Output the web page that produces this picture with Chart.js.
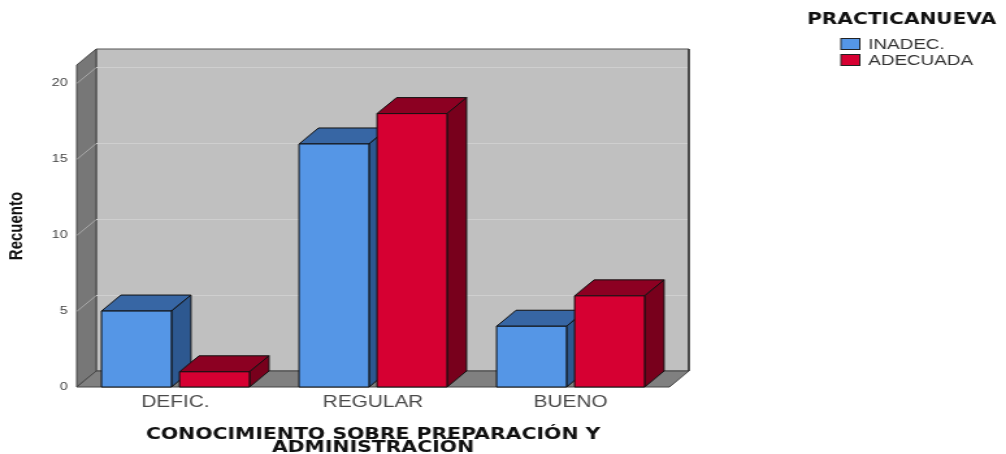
<!DOCTYPE html>
<html>
<head>
<meta charset="utf-8">
<script src="https://cdn.jsdelivr.net/npm/chart.js@4.4.1/dist/chart.umd.min.js"></script>
<style>
  html, body { margin: 0; padding: 0; background: #fff; }
  canvas { display: block; }
</style>
</head>
<body>
<canvas id="recuentoChart"></canvas>
<script>
// datos
const categories = ['DEFIC.', 'REGULAR', 'BUENO'];
const inadec = [5, 16, 4];
const adecuada = [1, 18, 6];
const seriesNames = ['INADEC.', 'ADECUADA'];
const legendTitle = 'PRACTICANUEVA';
const yTitle = 'Recuento';
const xTitle = ['CONOCIMIENTO SOBRE PREPARACIÓN Y', 'ADMINISTRACIÓN'];
const yTickValues = [0, 5, 10, 15, 20];

// the original picture is stretched sideways, so draw narrow and stretch the canvas
const STRETCH = 1.3;
const canvas = document.getElementById('recuentoChart');
canvas.width = Math.round(1006 / STRETCH);
canvas.height = 454;
canvas.style.width = '1006px';
canvas.style.height = '454px';

const DX = 15, DY = -16;

function poly(ctx, pts, fill, stroke) {
    ctx.beginPath();
    ctx.moveTo(pts[0][0], pts[0][1]);
    for (let i = 1; i < pts.length; i++) ctx.lineTo(pts[i][0], pts[i][1]);
    ctx.closePath();
    ctx.fillStyle = fill;
    ctx.fill();
    if (stroke) {
        ctx.strokeStyle = stroke;
        ctx.lineWidth = 1;
        ctx.stroke();
    }
}

const walls = {
    id: 'walls',
    beforeDatasetsDraw(chart) {
        const ctx = chart.ctx;
        const a = chart.chartArea;
        const y = chart.scales.y;
        const L = a.left, R = a.right, T = a.top, B = a.bottom;
        ctx.save();
        // back wall
        poly(ctx, [[L + DX, T + DY], [R + DX, T + DY], [R + DX, B + DY], [L + DX, B + DY]], '#c0c0c0', '#555');
        // left wall
        poly(ctx, [[L, B], [L, T], [L + DX, T + DY], [L + DX, B + DY]], '#777777', '#444');
        // floor
        poly(ctx, [[L, B], [R, B], [R + DX, B + DY], [L + DX, B + DY]], '#808080', '#444');
        // gridlines
        ctx.lineWidth = 1;
        yTickValues.forEach(v => {
            if (v === 0) return;
            const py = Math.round(y.getPixelForValue(v)) + 0.5;
            ctx.strokeStyle = '#a8a8a8';
            ctx.beginPath();
            ctx.moveTo(L, py);
            ctx.lineTo(L + DX, py + DY);
            ctx.stroke();
            ctx.strokeStyle = '#cfcfcf';
            ctx.beginPath();
            ctx.moveTo(L + DX, py + DY);
            ctx.lineTo(R + DX - 1, py + DY);
            ctx.stroke();
        });
        // right edge of back wall
        ctx.strokeStyle = '#333';
        ctx.lineWidth = 1.5;
        ctx.beginPath();
        ctx.moveTo(R + DX, T + DY);
        ctx.lineTo(R + DX, B + DY);
        ctx.stroke();
        ctx.restore();
    }
};

const bars3d = {
    id: 'bars3d',
    afterDatasetsDraw(chart) {
        const ctx = chart.ctx;
        const shades = [
            { front: '#5596e6', top: '#3766a4', side: '#2d5890' },
            { front: '#d60032', top: '#8c0022', side: '#78001c' }
        ];
        ctx.save();
        ctx.lineJoin = 'round';
        categories.forEach((c, i) => {
            chart.data.datasets.forEach((ds, d) => {
                const bar = chart.getDatasetMeta(d).data[i];
                const p = bar.getProps(['x', 'y', 'base', 'width'], true);
                const l = p.x - p.width / 2, r = p.x + p.width / 2;
                const sh = shades[d];
                poly(ctx, [[l, p.y], [r, p.y], [r + DX, p.y + DY], [l + DX, p.y + DY]], sh.top, '#111');
                poly(ctx, [[r, p.y], [r + DX, p.y + DY], [r + DX, p.base + DY], [r, p.base]], sh.side, '#111');
                poly(ctx, [[l, p.y], [r, p.y], [r, p.base], [l, p.base]], sh.front, '#111');
            });
        });
        ctx.restore();
    }
};

const legendDraw = {
    id: 'legendDraw',
    afterDraw(chart) {
        const ctx = chart.ctx;
        ctx.save();
        ctx.fillStyle = '#111';
        ctx.font = 'bold 15.5px "DejaVu Sans", sans-serif';
        ctx.textBaseline = 'middle';
        ctx.fillText(legendTitle, 621, 20);
        ctx.font = '14.5px "Liberation Sans", Arial, sans-serif';
        chart.data.datasets.forEach((ds, d) => {
            const cy = 44 + d * 16;
            ctx.fillStyle = ds.backgroundColor;
            ctx.fillRect(647, cy - 5.5, 14.5, 11);
            ctx.strokeStyle = '#222';
            ctx.lineWidth = 1;
            ctx.strokeRect(647, cy - 5.5, 14.5, 11);
            ctx.fillStyle = '#333';
            ctx.fillText(ds.label, 668, cy + 1);
        });
        ctx.restore();
    }
};

new Chart(canvas, {
    type: 'bar',
    data: {
        labels: categories,
        datasets: [{
            label: seriesNames[0],
            data: inadec,
            backgroundColor: '#5596e6',
            borderColor: '#111',
            borderWidth: 1
        }, {
            label: seriesNames[1],
            data: adecuada,
            backgroundColor: '#d60032',
            borderColor: '#111',
            borderWidth: 1
        }]
    },
    options: {
        responsive: false,
        devicePixelRatio: 1,
        animation: false,
        categoryPercentage: 0.79,
        barPercentage: 0.897,
        layout: {
            padding: { top: 65, right: 259, left: 0, bottom: 0 }
        },
        plugins: {
            legend: { display: false },
            tooltip: { enabled: false }
        },
        scales: {
            x: {
                grid: { display: false, drawTicks: false },
                border: { display: false },
                ticks: {
                    color: '#4a4a4a',
                    padding: 6,
                    font: { family: '"Liberation Sans", Arial, sans-serif', size: 16 }
                },
                title: {
                    display: true,
                    text: xTitle,
                    color: '#111',
                    padding: { top: 0, bottom: 0 },
                    font: { family: '"DejaVu Sans", sans-serif', size: 15.7, weight: 'bold', lineHeight: 0.83 }
                },
                afterFit: s => { s.height = 67; }
            },
            y: {
                min: 0,
                max: 21.2,
                grid: { display: false, drawTicks: false },
                border: { display: false },
                ticks: {
                    stepSize: 5,
                    includeBounds: false,
                    color: '#444',
                    padding: 7,
                    font: { family: '"Liberation Sans", Arial, sans-serif', size: 11 }
                },
                title: {
                    display: true,
                    text: yTitle,
                    color: '#111',
                    padding: { top: 4, bottom: 4 },
                    font: { family: '"Liberation Sans", Arial, sans-serif', size: 15, weight: 'bold' }
                },
                afterFit: s => { s.width = 59; }
            }
        }
    },
    plugins: [walls, bars3d, legendDraw]
});
</script>
</body>
</html>
